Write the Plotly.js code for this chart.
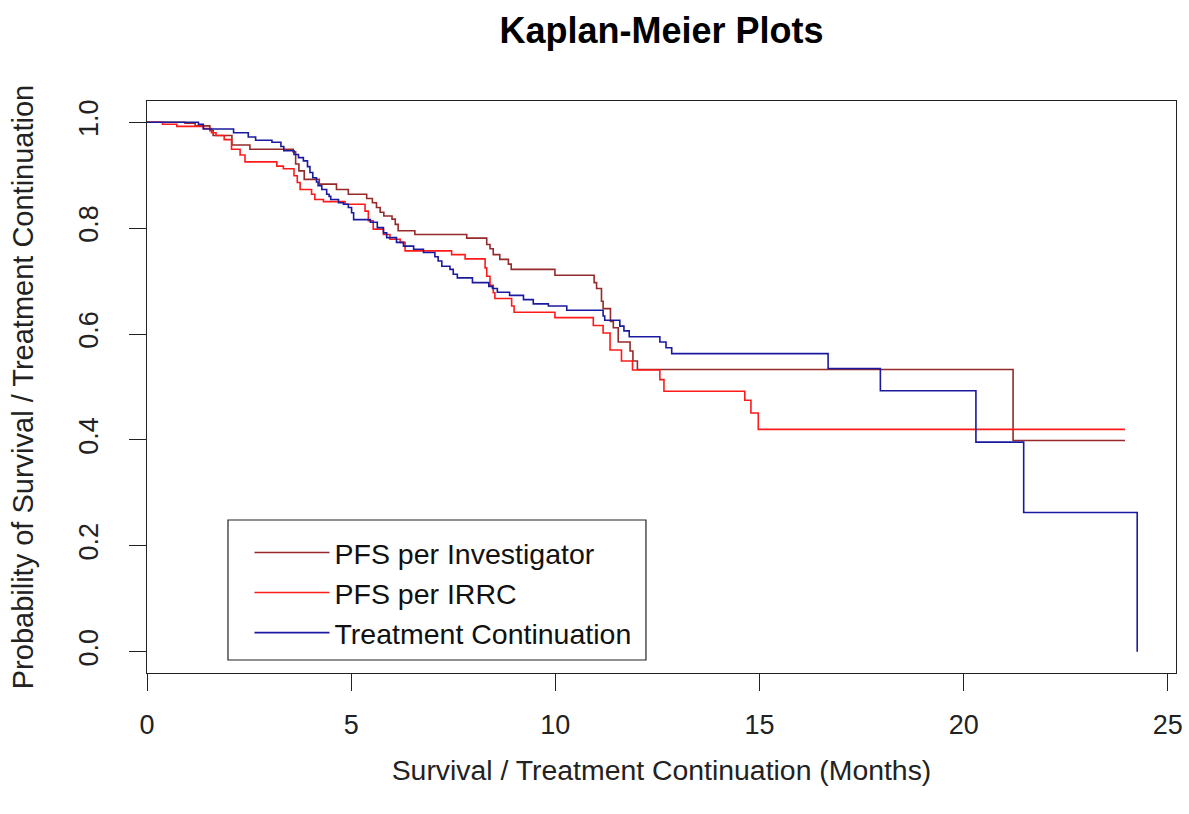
<!DOCTYPE html>
<html>
<head>
<meta charset="utf-8">
<script src="https://cdn.plot.ly/plotly-3.0.1.min.js"></script>
<style>
  html, body { margin: 0; padding: 0; background: #fff; }
  #chart { width: 1189px; height: 814px; }
</style>
</head>
<body>
<div id="chart"></div>
<script>
// Kaplan-Meier step estimates (months, survival probability)
const invTime = [0, 0.93, 1.18, 1.54, 1.62, 2.08, 2.52, 3.58, 3.64, 3.72, 3.85, 4.22, 4.64, 4.93, 5.38, 5.52, 5.62, 5.71, 5.80, 6.00, 6.08, 6.15, 6.56, 7.83, 8.32, 8.40, 8.48, 8.64, 8.85, 8.92, 9.99, 10.95, 11.01, 11.13, 11.17, 11.35, 11.42, 11.54, 11.83, 11.90, 12.01, 21.21, 23.95];
const invSurv = [1.0, 0.998, 0.993, 0.984, 0.975, 0.957, 0.949, 0.944, 0.921, 0.908, 0.892, 0.883, 0.873, 0.864, 0.856, 0.848, 0.839, 0.830, 0.823, 0.817, 0.807, 0.795, 0.788, 0.781, 0.769, 0.761, 0.750, 0.741, 0.732, 0.722, 0.711, 0.697, 0.686, 0.662, 0.648, 0.624, 0.612, 0.585, 0.568, 0.549, 0.533, 0.399, 0.399];

const irrcTime = [0, 0.38, 0.73, 1.38, 1.58, 1.69, 1.89, 2.07, 2.28, 2.40, 3.18, 3.34, 3.60, 3.68, 3.75, 4.03, 4.11, 4.32, 4.85, 5.34, 5.42, 5.54, 5.79, 5.95, 6.20, 6.32, 7.46, 7.79, 8.28, 8.32, 8.40, 8.48, 8.52, 8.93, 8.99, 9.99, 10.93, 11.17, 11.34, 11.62, 11.89, 12.56, 12.66, 14.64, 14.79, 14.97, 23.95];
const irrcSurv = [1.0, 0.996, 0.992, 0.988, 0.980, 0.975, 0.967, 0.949, 0.938, 0.925, 0.917, 0.912, 0.899, 0.886, 0.873, 0.864, 0.854, 0.850, 0.845, 0.832, 0.814, 0.798, 0.788, 0.779, 0.773, 0.757, 0.750, 0.742, 0.725, 0.709, 0.692, 0.678, 0.667, 0.653, 0.641, 0.631, 0.616, 0.602, 0.570, 0.549, 0.532, 0.514, 0.492, 0.475, 0.451, 0.420, 0.420];

const tcTime = [0, 1.26, 1.38, 2.12, 2.48, 2.66, 3.06, 3.28, 3.35, 3.60, 3.71, 3.83, 3.93, 3.99, 4.06, 4.15, 4.19, 4.28, 4.40, 4.46, 4.50, 4.69, 4.81, 4.93, 5.01, 5.06, 5.47, 5.64, 5.79, 5.87, 6.11, 6.28, 6.53, 6.77, 7.05, 7.13, 7.22, 7.42, 7.50, 7.60, 7.97, 8.37, 8.46, 8.58, 8.88, 9.22, 9.46, 9.83, 10.28, 11.17, 11.21, 11.58, 11.68, 11.81, 12.56, 12.71, 12.85, 16.68, 17.96, 20.30, 21.47, 24.25];
const tcSurv = [1.0, 0.996, 0.987, 0.980, 0.972, 0.966, 0.962, 0.954, 0.946, 0.939, 0.933, 0.927, 0.916, 0.905, 0.895, 0.887, 0.880, 0.873, 0.864, 0.860, 0.854, 0.848, 0.845, 0.839, 0.829, 0.816, 0.811, 0.801, 0.791, 0.782, 0.773, 0.766, 0.760, 0.754, 0.746, 0.738, 0.728, 0.722, 0.713, 0.706, 0.697, 0.690, 0.686, 0.679, 0.673, 0.665, 0.657, 0.653, 0.645, 0.634, 0.626, 0.615, 0.606, 0.595, 0.585, 0.574, 0.563, 0.535, 0.493, 0.396, 0.263, 0.0];

const seriesNames = ['PFS per Investigator', 'PFS per IRRC', 'Treatment Continuation'];
const seriesColors = ['#962a2a', '#ff1a1a', '#1a1aa0'];

const xTicks = [0, 5, 10, 15, 20, 25];
const yTicks = [0, 0.2, 0.4, 0.6, 0.8, 1.0];

const FONT = 'Liberation Sans, Arial, Helvetica, sans-serif';

function kmTrace(x, y, i) {
  return {
    type: 'scatter', mode: 'lines',
    x: x, y: y, name: seriesNames[i],
    line: { shape: 'hv', color: seriesColors[i], width: 1.6 },
    hoverinfo: 'x+y+name'
  };
}

const data = [
  kmTrace(invTime, invSurv, 0),
  kmTrace(irrcTime, irrcSurv, 1),
  kmTrace(tcTime, tcSurv, 2)
];

const axisCommon = {
  showgrid: false, zeroline: false,
  showline: true, mirror: true, linecolor: '#222', linewidth: 1,
  ticks: 'outside', ticklen: 17, tickcolor: '#222', tickwidth: 1,
  tickfont: { family: FONT, size: 27, color: '#222' }
};

const layout = {
  width: 1189, height: 814,
  margin: { l: 147, r: 13, t: 101, b: 141, pad: 0 },
  paper_bgcolor: '#fff', plot_bgcolor: '#fff',
  font: { family: FONT, color: '#111' },
  showlegend: true,
  title: {
    text: 'Kaplan-Meier Plots',
    font: { family: FONT, size: 36, weight: 'bold', color: '#000' },
    x: 0.5, xref: 'paper', xanchor: 'center',
    y: 1 - 30 / 814, yref: 'container', yanchor: 'middle'
  },
  xaxis: Object.assign({}, axisCommon, {
    range: [0, 25.2],
    tickmode: 'array', tickvals: xTicks, ticktext: xTicks.map(String),
    ticklabelstandoff: 11,
    title: { text: 'Survival / Treatment Continuation (Months)',
             font: { family: FONT, size: 28.4, color: '#222' }, standoff: 20 }
  }),
  yaxis: Object.assign({}, axisCommon, {
    range: [-0.04, 1.04],
    tickmode: 'array', tickvals: yTicks, ticktext: yTicks.map(v => v.toFixed(1)),
    tickangle: -90,
    ticklabelstandoff: 20,
    title: { text: 'Probability of Survival / Treatment Continuation',
             font: { family: FONT, size: 29, color: '#222' }, standoff: 32 }
  }),
  legend: {
    x: 0.0996, y: 0.2544, xanchor: 'left', yanchor: 'top',
    bgcolor: 'rgba(0,0,0,0)', borderwidth: 0,
    font: { family: FONT, size: 28.5, color: '#111' },
    itemwidth: 75, tracegroupgap: 0
  },
  shapes: [{
    type: 'rect', xref: 'paper', yref: 'paper',
    x0: 0.0787, x1: 0.4849, y0: 0.0227, y1: 0.2675,
    line: { color: '#222', width: 1.2 }, fillcolor: 'rgba(0,0,0,0)'
  }]
};

Plotly.newPlot('chart', data, layout, { displayModeBar: false, staticPlot: true });
</script>
</body>
</html>
